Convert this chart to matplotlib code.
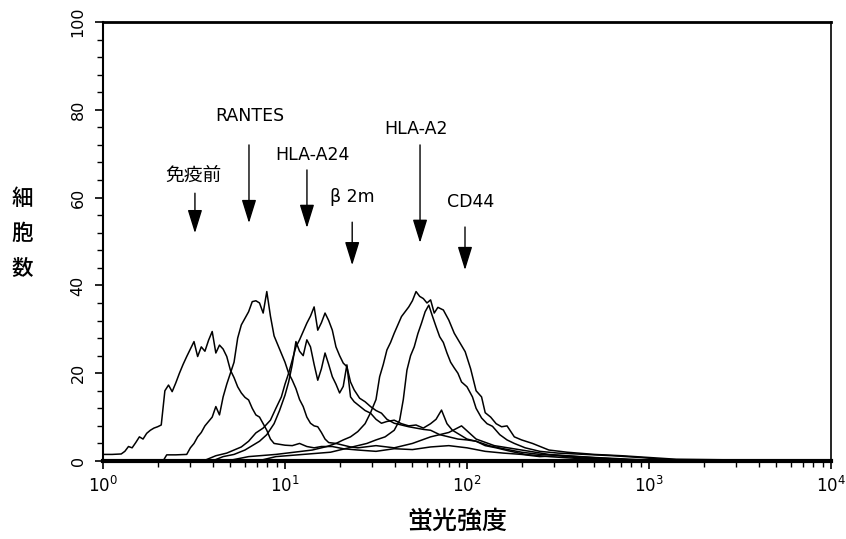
import numpy as np
import matplotlib
matplotlib.use("Agg")
import matplotlib.pyplot as plt
from matplotlib.ticker import LogLocator, MultipleLocator

plt.rcParams['font.family'] = ['DejaVu Sans', 'Noto Sans CJK JP']

# 各ヒストグラム (log10 蛍光強度, 細胞数) -- 図から読み取り
pre_logx = [0.00, 0.05, 0.10, 0.12, 0.14, 0.16, 0.18, 0.20, 0.22, 0.24,
            0.26, 0.28, 0.30, 0.32, 0.34, 0.36, 0.38, 0.40, 0.42, 0.44,
            0.46, 0.48, 0.50, 0.52, 0.54, 0.56, 0.58, 0.60, 0.62, 0.64,
            0.66, 0.68, 0.70, 0.72, 0.74, 0.76, 0.78, 0.80, 0.82, 0.84,
            0.86, 0.88, 0.90, 0.92, 0.94, 0.97, 1.00, 1.04, 1.08, 1.12,
            1.16, 1.20, 1.26, 1.32, 1.40, 1.50, 1.60, 1.70, 1.80, 1.90,
            2.00, 2.10, 2.20, 2.30, 2.40, 2.50, 2.60, 2.70, 2.85, 3.00, 4.00]
pre_counts = [1.5, 1.5, 1.6, 2.2, 3.3, 3.0, 4.2, 5.5, 5.0, 6.3,
              7.0, 7.5, 7.8, 8.2, 16.0, 17.3, 15.8, 17.8, 20.0, 22.0,
              23.8, 25.5, 27.2, 23.8, 26.0, 25.0, 27.5, 29.5, 24.6, 26.4,
              25.5, 23.8, 20.7, 19.0, 16.9, 15.5, 14.5, 13.9, 12.0, 10.5,
              10.0, 8.5, 7.0, 5.0, 4.0, 3.8, 3.6, 3.5, 4.0, 3.3,
              3.0, 3.3, 3.3, 2.8, 2.5, 2.2, 2.8, 2.6, 3.2, 3.5,
              3.0, 2.2, 1.8, 1.5, 1.0, 1.2, 0.8, 0.5, 0.3, 0.0, 0.0]

rantes_logx = [0.00, 0.33, 0.35, 0.40, 0.46, 0.48, 0.50, 0.52, 0.54, 0.56,
               0.58, 0.60, 0.62, 0.64, 0.66, 0.68, 0.70, 0.72, 0.74, 0.76,
               0.78, 0.80, 0.82, 0.84, 0.86, 0.88, 0.90, 0.92, 0.94, 0.96,
               0.98, 1.00, 1.02, 1.04, 1.06, 1.08, 1.10, 1.12, 1.14, 1.16,
               1.18, 1.20, 1.22, 1.24, 1.28, 1.32, 1.36, 1.40, 1.50, 1.60,
               1.70, 1.80, 1.90, 1.97, 2.05, 2.15, 2.30, 2.45, 2.60, 2.80,
               3.00, 4.00]
rantes_counts = [0.0, 0.0, 1.4, 1.4, 1.5, 3.0, 4.0, 5.5, 6.5, 8.0,
                 9.0, 10.0, 12.4, 10.5, 14.6, 17.5, 20.0, 22.5, 28.0, 31.0,
                 32.5, 34.0, 36.3, 36.5, 36.0, 33.7, 38.6, 33.0, 28.5, 26.5,
                 24.5, 22.5, 20.0, 18.4, 16.5, 14.0, 12.4, 10.0, 8.6, 8.0,
                 7.8, 6.5, 5.0, 4.2, 4.0, 3.6, 3.2, 3.0, 3.5, 3.0,
                 4.0, 5.5, 6.5, 8.0, 5.0, 3.5, 2.5, 1.5, 1.0, 0.5,
                 0.0, 0.0]

a24_logx = [0.00, 0.55, 0.62, 0.68, 0.72, 0.76, 0.80, 0.84, 0.88, 0.92,
            0.95, 0.98, 1.00, 1.02, 1.04, 1.06, 1.08, 1.10, 1.12, 1.14,
            1.16, 1.18, 1.20, 1.22, 1.24, 1.26, 1.28, 1.30, 1.32, 1.34,
            1.36, 1.38, 1.41, 1.44, 1.47, 1.50, 1.53, 1.56, 1.60, 1.64,
            1.68, 1.72, 1.76, 1.80, 1.85, 1.90, 1.95, 2.00, 2.05, 2.12,
            2.20, 2.30, 2.40, 2.55, 2.70, 2.90, 3.10, 4.00]
a24_counts = [0.0, 0.0, 1.2, 1.8, 2.5, 3.2, 4.5, 6.4, 7.5, 9.3,
              12.0, 14.6, 17.5, 20.0, 23.0, 26.0, 27.6, 29.5, 31.4, 33.0,
              35.1, 29.8, 31.5, 33.7, 32.0, 29.8, 26.0, 24.0, 22.3, 21.5,
              18.0, 16.2, 14.3, 13.5, 12.4, 11.5, 10.9, 9.5, 8.6, 8.2,
              7.8, 7.5, 7.2, 7.0, 6.0, 5.5, 5.0, 4.8, 4.5, 3.5,
              2.8, 2.0, 1.5, 1.2, 0.8, 0.4, 0.0, 0.0]

b2m_logx = [0.00, 0.60, 0.66, 0.72, 0.78, 0.82, 0.86, 0.90, 0.94, 0.97,
            1.00, 1.02, 1.04, 1.06, 1.08, 1.10, 1.12, 1.14, 1.16, 1.18,
            1.20, 1.22, 1.24, 1.26, 1.28, 1.30, 1.32, 1.34, 1.36, 1.38,
            1.41, 1.44, 1.47, 1.50, 1.53, 1.56, 1.60, 1.64, 1.68, 1.72,
            1.76, 1.80, 1.83, 1.86, 1.89, 1.92, 1.96, 2.00, 2.05, 2.10,
            2.16, 2.24, 2.32, 2.45, 2.60, 2.80, 3.00, 4.00]
b2m_counts = [0.0, 0.0, 1.0, 1.5, 2.5, 3.5, 4.5, 6.0, 8.5, 11.5,
              15.0, 18.0, 22.0, 27.2, 25.0, 24.0, 27.6, 26.0, 22.0, 18.4,
              21.0, 24.6, 22.0, 19.2, 17.5, 15.5, 17.0, 21.9, 14.6, 13.5,
              12.5, 11.5, 10.9, 9.5, 8.6, 9.0, 9.3, 8.5, 8.0, 8.2,
              7.5, 8.5, 9.5, 11.6, 8.5, 7.0, 6.0, 5.0, 4.5, 3.5,
              3.0, 2.2, 1.5, 1.0, 0.6, 0.3, 0.0, 0.0]

a2_logx = [0.00, 0.68, 0.80, 0.95, 1.05, 1.15, 1.23, 1.28, 1.32, 1.36,
           1.40, 1.44, 1.47, 1.50, 1.52, 1.54, 1.56, 1.58, 1.60, 1.62,
           1.64, 1.66, 1.68, 1.70, 1.72, 1.74, 1.76, 1.78, 1.80, 1.82,
           1.84, 1.87, 1.90, 1.93, 1.96, 1.99, 2.02, 2.05, 2.08, 2.10,
           2.13, 2.16, 2.19, 2.22, 2.26, 2.30, 2.36, 2.45, 2.55, 2.70,
           2.85, 3.00, 3.15, 4.00]
a2_counts = [0.0, 0.0, 1.0, 1.5, 2.0, 2.5, 3.3, 4.0, 4.8, 5.5,
             6.7, 8.5, 11.0, 14.0, 19.2, 22.0, 25.3, 27.0, 29.1, 31.0,
             32.9, 34.0, 35.1, 36.5, 38.6, 37.5, 37.0, 36.0, 36.7, 33.7,
             35.0, 34.4, 32.1, 29.1, 27.0, 24.9, 21.0, 16.0, 14.6, 11.0,
             10.0, 8.5, 7.8, 8.0, 5.5, 4.8, 4.0, 2.5, 2.0, 1.5,
             1.2, 0.8, 0.4, 0.0]

cd44_logx = [0.00, 0.85, 0.95, 1.10, 1.25, 1.35, 1.45, 1.50, 1.55, 1.60,
             1.63, 1.65, 1.67, 1.69, 1.71, 1.73, 1.75, 1.77, 1.79, 1.81,
             1.83, 1.85, 1.87, 1.89, 1.91, 1.93, 1.95, 1.97, 2.00, 2.03,
             2.05, 2.08, 2.11, 2.14, 2.18, 2.22, 2.26, 2.32, 2.40, 2.50,
             2.65, 2.80, 2.95, 3.10, 4.00]
cd44_counts = [0.0, 0.0, 1.0, 1.5, 2.0, 3.0, 4.0, 4.8, 5.5, 7.0,
               9.3, 14.0, 20.7, 24.0, 26.0, 29.0, 31.4, 34.0, 35.5, 33.0,
               30.6, 28.3, 27.0, 24.6, 22.5, 21.2, 20.0, 18.0, 16.9, 14.6,
               12.0, 9.8, 8.5, 7.9, 6.0, 4.8, 4.0, 3.0, 2.2, 1.8,
               1.5, 1.2, 0.8, 0.3, 0.0]

# 矢印ラベル
labels = ['免疫前', 'RANTES', 'HLA-A24', 'β 2m', 'HLA-A2', 'CD44']
arrow_x = [3.2, 6.34, 13.2, 23.4, 55.2, 97.5]
arrow_top = [61.0, 72.0, 66.3, 54.4, 72.0, 53.3]
arrow_tip = [51.9, 54.2, 53.1, 44.6, 49.7, 43.5]
label_x = [3.16, 6.4, 14.1, 23.4, 52.5, 105.0]
label_y = [65.1, 78.6, 69.7, 60.1, 75.6, 59.0]

fig = plt.figure(figsize=(8.46, 5.39), dpi=100)
ax = fig.add_axes([103 / 846, 78 / 539, 728 / 846, 439 / 539])

curves = [(pre_logx, pre_counts), (rantes_logx, rantes_counts),
          (a24_logx, a24_counts), (b2m_logx, b2m_counts),
          (a2_logx, a2_counts), (cd44_logx, cd44_counts)]
for lx, cnt in curves:
    ax.plot(10 ** np.array(lx), cnt, color='black', lw=1.1)

ax.set_xscale('log')
ax.set_xlim(1, 1e4)
ax.set_ylim(0, 100)

ax.xaxis.set_major_locator(LogLocator(base=10, numticks=10))
ax.xaxis.set_minor_locator(LogLocator(base=10, subs=np.arange(2, 10), numticks=20))
ax.yaxis.set_major_locator(MultipleLocator(20))
ax.yaxis.set_minor_locator(MultipleLocator(4))
ax.tick_params(axis='both', which='major', direction='out', length=6, width=1.2)
ax.tick_params(axis='both', which='minor', direction='out', length=4, width=1.0)
ax.tick_params(axis='x', labelsize=12, pad=5)
ax.tick_params(axis='y', labelsize=11.5, pad=12)
for lab in ax.get_yticklabels():
    lab.set_rotation(90)
    lab.set_va('center')
    lab.set_ha('center')

ax.spines['bottom'].set_linewidth(3)
ax.spines['top'].set_linewidth(2)
ax.spines['left'].set_linewidth(1.5)
ax.spines['right'].set_linewidth(1.2)

for txt, xa, yt, yp, tx, ty in zip(labels, arrow_x, arrow_top, arrow_tip, label_x, label_y):
    ax.annotate('', xy=(xa, yp), xytext=(xa, yt),
                arrowprops=dict(arrowstyle='-|>,head_length=1.45,head_width=0.45',
                                mutation_scale=10, lw=1.0, color='black',
                                shrinkA=0, shrinkB=0))
    size = 13.5 if txt == '免疫前' else 12.5
    ax.text(tx, ty, txt, ha='center', va='center', fontsize=size)

fig.text(22 / 846, 1 - 234 / 539, '細\n胞\n数', ha='center', va='center',
         fontsize=15.5, linespacing=1.75, family=['Noto Sans CJK JP'], weight='medium')
fig.text(457 / 846, 1 - 522 / 539, '蛍光強度', ha='center', va='center',
         fontsize=18, family=['Noto Sans CJK JP'], weight='medium')

fig.savefig('out.png', dpi=100)
